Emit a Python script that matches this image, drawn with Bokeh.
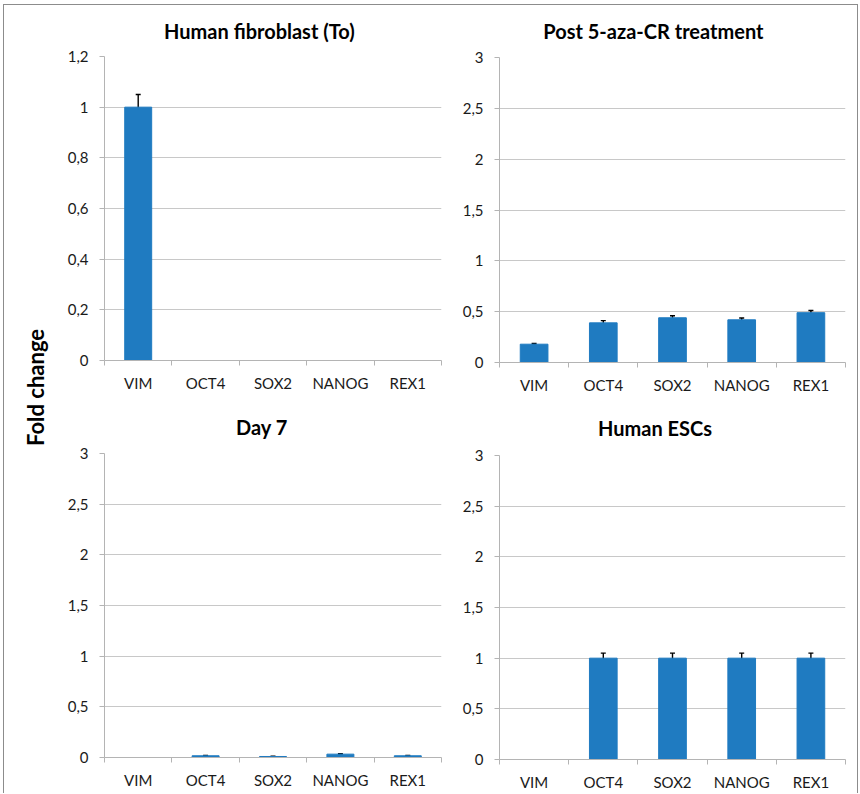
import math
from bokeh.plotting import figure
from bokeh.layouts import row, column
from bokeh.models import Range1d, FixedTicker, Label, Whisker, TeeHead, ColumnDataSource
from bokeh.embed import file_html
from bokeh.resources import INLINE

# ---------------- data ----------------
genes = ["VIM", "OCT4", "SOX2", "NANOG", "REX1"]
panel_titles = ["Human fibroblast (To)", "Post 5-aza-CR treatment", "Day 7", "Human ESCs"]
y_title = "Fold change"

fibroblast = [1.0, 0.0, 0.0, 0.0, 0.0]
fibroblast_err = [0.05, 0.0, 0.0, 0.0, 0.0]
post_aza = [0.18, 0.39, 0.44, 0.42, 0.49]
post_aza_err = [0.007, 0.022, 0.02, 0.018, 0.022]
day7 = [0.0, 0.017, 0.01, 0.033, 0.017]
day7_err = [0.0, 0.004, 0.004, 0.005, 0.004]
escs = [0.0, 1.0, 1.0, 1.0, 1.0]
escs_err = [0.0, 0.05, 0.05, 0.05, 0.05]

yticks_fib = [0, 0.2, 0.4, 0.6, 0.8, 1.0, 1.2]
ylabels_fib = ["0", "0,2", "0,4", "0,6", "0,8", "1", "1,2"]
yticks = [0, 0.5, 1, 1.5, 2, 2.5, 3]
ylabels = ["0", "0,5", "1", "1,5", "2", "2,5", "3"]

# ---------------- style ----------------
BAR = "#1f7bc1"
AXIS = "#b4b4b4"
GRID = "#c8c8c8"
TXT = "#1a1a1a"
FONT = "Lato"


def blank(width, height):
    f = figure(width=width, height=height, x_range=Range1d(0, width), y_range=Range1d(0, height),
               x_axis_location=None, y_axis_location=None, min_border=0,
               output_backend="svg", toolbar_location=None)
    f.outline_line_color = None
    f.grid.visible = False
    f.border_fill_color = "white"
    f.background_fill_color = "white"
    return f


def make_title(text, width, height, cx, cy_from_top):
    f = blank(width, height)
    f.add_layout(Label(x=cx, y=height - cy_from_top, text=text,
                       text_align="center", text_baseline="middle",
                       text_font=FONT, text_font_style="bold",
                       text_font_size="20px", text_color="black"))
    return f


def make_panel(vals, errs, ticks, labels, left, fw, right, top, fh, bottom):
    ymax = ticks[-1]
    n = len(genes)
    p = figure(frame_width=fw, frame_height=fh,
               min_border_left=left, min_border_right=right,
               min_border_top=top, min_border_bottom=bottom,
               x_range=Range1d(0, n), y_range=Range1d(0, ymax),
               output_backend="svg", toolbar_location=None)
    p.outline_line_color = None
    p.background_fill_color = "white"
    p.border_fill_color = "white"

    xs = [i + 0.5 for i in range(n)]
    p.vbar(x=xs, top=vals, width=0.4, bottom=0, fill_color=BAR, line_color=BAR)

    idx = [i for i, e in enumerate(errs) if e > 0]
    if idx:
        src = ColumnDataSource(dict(
            x=[xs[i] for i in idx],
            upper=[vals[i] + errs[i] for i in idx],
            lower=[vals[i] - errs[i] for i in idx]))
        w = Whisker(source=src, base="x", upper="upper", lower="lower",
                    line_color="black", line_width=1.4,
                    upper_head=TeeHead(size=5, line_color="black", line_width=1.4),
                    lower_head=TeeHead(size=5, line_color="black", line_width=1.4))
        p.add_layout(w)

    xa = p.xaxis[0]
    xa.ticker = FixedTicker(ticks=xs, minor_ticks=list(range(n + 1)))
    xa.major_label_overrides = {x: g for x, g in zip(xs, genes)}
    xa.major_tick_line_color = None
    xa.major_tick_out = 0
    xa.major_tick_in = 0
    xa.minor_tick_line_color = AXIS
    xa.minor_tick_out = 5
    xa.minor_tick_in = 0
    xa.axis_line_color = AXIS
    xa.major_label_text_font = FONT
    xa.major_label_text_font_size = "15px"
    xa.major_label_text_color = TXT
    xa.major_label_standoff = 8

    ya = p.yaxis[0]
    ya.ticker = FixedTicker(ticks=ticks)
    ya.major_label_overrides = {t: l for t, l in zip(ticks, labels)}
    ya.major_tick_line_color = AXIS
    ya.major_tick_out = 5
    ya.major_tick_in = 0
    ya.minor_tick_line_color = None
    ya.axis_line_color = AXIS
    ya.major_label_text_font = FONT
    ya.major_label_text_font_size = "15px"
    ya.major_label_text_color = TXT
    ya.major_label_standoff = 11

    p.xgrid.visible = False
    p.ygrid.ticker = FixedTicker(ticks=ticks)
    p.ygrid.grid_line_color = GRID
    p.ygrid.grid_line_width = 1
    return p


LW, RW = 396, 407

t1 = make_title(panel_titles[0], LW, 40, 182, 25)
p1 = make_panel(fibroblast, fibroblast_err, yticks_fib, ylabels_fib, 50, 337, 9, 11, 304, 34)
t2 = make_title(panel_titles[1], RW, 40, 181, 25)
p2 = make_panel(post_aza, post_aza_err, yticks, ylabels, 49, 346, 12, 12, 305, 32)
t3 = make_title(panel_titles[2], LW, 46, 185, 30)
p3 = make_panel(day7, day7_err, yticks, ylabels, 50, 337, 9, 11, 304, 36)
t4 = make_title(panel_titles[3], RW, 46, 183, 31.7)
p4 = make_panel(escs, escs_err, yticks, ylabels, 49, 346, 12, 13, 304, 34)

pl = blank(50, 786)
pl.add_layout(Label(x=31, y=786 - 382, text=y_title, angle=math.pi / 2,
                    text_align="center", text_baseline="middle",
                    text_font=FONT, text_font_style="bold",
                    text_font_size="22px", text_color="black"))

grid = column(row(column(t1, p1), column(t2, p2)),
              row(column(t3, p3), column(t4, p4)))
layout = row(pl, grid,
             styles={"margin-left": "3px", "margin-top": "4px",
                     "border-left": "1px solid #8c8c8c",
                     "border-top": "1px solid #8c8c8c",
                     "border-right": "1px solid #8c8c8c"})

open("out.html", "w").write(file_html(layout, INLINE))
